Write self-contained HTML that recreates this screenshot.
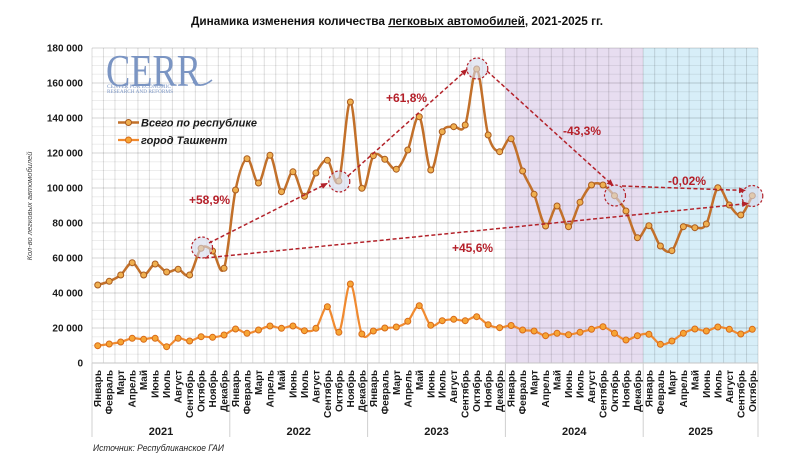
<!DOCTYPE html>
<html><head><meta charset="utf-8"><style>
html,body{margin:0;padding:0;background:#fff;}
svg{display:block;}
.ml{font-family:"Liberation Sans",Arial,sans-serif;font-size:10px;font-weight:bold;fill:#1a1a1a;}
.yl{font-family:"Liberation Sans",Arial,sans-serif;font-size:10px;font-weight:bold;fill:#1a1a1a;}
.pct{font-family:"Liberation Sans",Arial,sans-serif;font-size:12px;font-weight:bold;fill:#b5202a;}
</style></head><body>
<svg id="s" width="788" height="469" viewBox="0 0 788 469" xmlns="http://www.w3.org/2000/svg">
<defs>
<marker id="ah" markerWidth="7" markerHeight="6" refX="6" refY="3" orient="auto" markerUnits="userSpaceOnUse"><path d="M0,0 L7,3 L0,6 z" fill="#b3222a"/></marker>
</defs>
<rect width="788" height="469" fill="#fff"/>
<rect x="505.4" y="48" width="137.8" height="315" fill="#e7ddf0"/>
<rect x="643.2" y="48" width="114.8" height="315" fill="#d7eef8"/>
<g id="grid"></g>
<line x1="92" y1="363" x2="758" y2="363" stroke="#c4c4c4" stroke-width="1"/>
<g stroke="#d0d0d0" stroke-width="1">
<line x1="92" y1="363" x2="92" y2="437"/>
<line x1="229.8" y1="363" x2="229.8" y2="437"/>
<line x1="367.6" y1="363" x2="367.6" y2="437"/>
<line x1="505.4" y1="363" x2="505.4" y2="437"/>
<line x1="643.2" y1="363" x2="643.2" y2="437"/>
<line x1="758" y1="363" x2="758" y2="437"/>
</g>

<!-- CERR logo -->
<text x="106" y="86" font-family="'Liberation Serif',serif" font-size="45" fill="#7b95c3" textLength="95" lengthAdjust="spacingAndGlyphs">CERR</text>
<path d="M193,82 Q201,89 212,80" fill="none" stroke="#7b95c3" stroke-width="1.6"/>
<text x="107" y="88" font-family="'Liberation Serif',serif" font-size="5" fill="#7b95c3" textLength="64" lengthAdjust="spacingAndGlyphs">CENTER FOR ECONOMIC</text>
<text x="107" y="93" font-family="'Liberation Serif',serif" font-size="5" fill="#7b95c3" textLength="66" lengthAdjust="spacingAndGlyphs">RESEARCH AND REFORMS</text>

<g id="series"></g>

<!-- annotation circles -->
<g fill="rgba(214,219,236,0.6)" stroke="#b3222a" stroke-width="1.2" stroke-dasharray="2.5,2">
<circle cx="202" cy="247.5" r="10.5"/>
<circle cx="339.3" cy="181.5" r="10.5"/>
<circle cx="477.3" cy="68.5" r="10.5"/>
<circle cx="615" cy="195.5" r="10.5"/>
<circle cx="752.3" cy="196" r="10.5"/>
</g>
<!-- arrows -->
<g stroke="#b3222a" stroke-width="1.5" stroke-dasharray="4,2.5" fill="none" marker-end="url(#ah)">
<line x1="209" y1="243" x2="327" y2="183.5"/>
<line x1="348" y1="176" x2="467" y2="69.5"/>
<line x1="487" y1="71" x2="613" y2="185.5"/>
<line x1="622" y1="186" x2="745" y2="190.5"/>
<line x1="205" y1="258" x2="748" y2="203.5"/>
</g>

<!-- percent labels -->
<text class="pct" x="189" y="204">+58,9%</text>
<text class="pct" x="386" y="102">+61,8%</text>
<text class="pct" x="563" y="135">-43,3%</text>
<text class="pct" x="668" y="185">-0,02%</text>
<text class="pct" x="452" y="252">+45,6%</text>

<!-- title -->
<text x="191" y="25" font-family="'Liberation Sans',Arial,sans-serif" font-size="12" font-weight="bold" fill="#111" textLength="412" lengthAdjust="spacingAndGlyphs">Динамика изменения количества <tspan text-decoration="underline" style="text-decoration:underline">легковых автомобилей</tspan>, 2021-2025 гг.</text>

<!-- y labels -->
<g class="yl" text-anchor="end">
<text x="83" y="366.5">0</text>
<text x="83" y="331.5">20 000</text>
<text x="83" y="296.5">40 000</text>
<text x="83" y="261.5">60 000</text>
<text x="83" y="226.5">80 000</text>
<text x="83" y="191.5">100 000</text>
<text x="83" y="156.5">120 000</text>
<text x="83" y="121.5">140 000</text>
<text x="83" y="86.5">160 000</text>
<text x="83" y="51.5">180 000</text>
</g>
<text transform="translate(32,206) rotate(-90)" text-anchor="middle" font-family="'Liberation Sans',Arial,sans-serif" font-size="7.5" font-style="italic" fill="#444">Кол-во легковых автомобилей</text>

<!-- legend -->
<line x1="118" y1="122.5" x2="139" y2="122.5" stroke="#c2702a" stroke-width="2.5"/>
<circle cx="128.5" cy="122.5" r="3" fill="#f0b050" stroke="#a85a1e" stroke-width="1"/>
<text x="141" y="126.5" font-family="'Liberation Sans',Arial,sans-serif" font-size="11" font-weight="bold" font-style="italic" fill="#1a1a1a">Всего по республике</text>
<line x1="118" y1="140" x2="139" y2="140" stroke="#f08a30" stroke-width="2.2"/>
<circle cx="128.5" cy="140" r="3" fill="#f7a535" stroke="#d86a18" stroke-width="1"/>
<text x="141" y="144" font-family="'Liberation Sans',Arial,sans-serif" font-size="11" font-weight="bold" font-style="italic" fill="#1a1a1a">город Ташкент</text>

<!-- month labels -->
<g class="ml" text-anchor="end">
<g transform="translate(92,0)">
<text transform="translate(9.2,370) rotate(-90)">Январь</text>
<text transform="translate(20.7,370) rotate(-90)">Февраль</text>
<text transform="translate(32.2,370) rotate(-90)">Март</text>
<text transform="translate(43.7,370) rotate(-90)">Апрель</text>
<text transform="translate(55.2,370) rotate(-90)">Май</text>
<text transform="translate(66.7,370) rotate(-90)">Июнь</text>
<text transform="translate(78.1,370) rotate(-90)">Июль</text>
<text transform="translate(89.6,370) rotate(-90)">Август</text>
<text transform="translate(101.1,370) rotate(-90)">Сентябрь</text>
<text transform="translate(112.6,370) rotate(-90)">Октябрь</text>
<text transform="translate(124.1,370) rotate(-90)">Ноябрь</text>
<text transform="translate(135.6,370) rotate(-90)">Декабрь</text>
</g>
<g transform="translate(229.8,0)">
<text transform="translate(9.2,370) rotate(-90)">Январь</text>
<text transform="translate(20.7,370) rotate(-90)">Февраль</text>
<text transform="translate(32.2,370) rotate(-90)">Март</text>
<text transform="translate(43.7,370) rotate(-90)">Апрель</text>
<text transform="translate(55.2,370) rotate(-90)">Май</text>
<text transform="translate(66.7,370) rotate(-90)">Июнь</text>
<text transform="translate(78.1,370) rotate(-90)">Июль</text>
<text transform="translate(89.6,370) rotate(-90)">Август</text>
<text transform="translate(101.1,370) rotate(-90)">Сентябрь</text>
<text transform="translate(112.6,370) rotate(-90)">Октябрь</text>
<text transform="translate(124.1,370) rotate(-90)">Ноябрь</text>
<text transform="translate(135.6,370) rotate(-90)">Декабрь</text>
</g>
<g transform="translate(367.6,0)">
<text transform="translate(9.2,370) rotate(-90)">Январь</text>
<text transform="translate(20.7,370) rotate(-90)">Февраль</text>
<text transform="translate(32.2,370) rotate(-90)">Март</text>
<text transform="translate(43.7,370) rotate(-90)">Апрель</text>
<text transform="translate(55.2,370) rotate(-90)">Май</text>
<text transform="translate(66.7,370) rotate(-90)">Июнь</text>
<text transform="translate(78.1,370) rotate(-90)">Июль</text>
<text transform="translate(89.6,370) rotate(-90)">Август</text>
<text transform="translate(101.1,370) rotate(-90)">Сентябрь</text>
<text transform="translate(112.6,370) rotate(-90)">Октябрь</text>
<text transform="translate(124.1,370) rotate(-90)">Ноябрь</text>
<text transform="translate(135.6,370) rotate(-90)">Декабрь</text>
</g>
<g transform="translate(505.4,0)">
<text transform="translate(9.2,370) rotate(-90)">Январь</text>
<text transform="translate(20.7,370) rotate(-90)">Февраль</text>
<text transform="translate(32.2,370) rotate(-90)">Март</text>
<text transform="translate(43.7,370) rotate(-90)">Апрель</text>
<text transform="translate(55.2,370) rotate(-90)">Май</text>
<text transform="translate(66.7,370) rotate(-90)">Июнь</text>
<text transform="translate(78.1,370) rotate(-90)">Июль</text>
<text transform="translate(89.6,370) rotate(-90)">Август</text>
<text transform="translate(101.1,370) rotate(-90)">Сентябрь</text>
<text transform="translate(112.6,370) rotate(-90)">Октябрь</text>
<text transform="translate(124.1,370) rotate(-90)">Ноябрь</text>
<text transform="translate(135.6,370) rotate(-90)">Декабрь</text>
</g>
<g transform="translate(643.2,0)">
<text transform="translate(9.2,370) rotate(-90)">Январь</text>
<text transform="translate(20.7,370) rotate(-90)">Февраль</text>
<text transform="translate(32.2,370) rotate(-90)">Март</text>
<text transform="translate(43.7,370) rotate(-90)">Апрель</text>
<text transform="translate(55.2,370) rotate(-90)">Май</text>
<text transform="translate(66.7,370) rotate(-90)">Июнь</text>
<text transform="translate(78.1,370) rotate(-90)">Июль</text>
<text transform="translate(89.6,370) rotate(-90)">Август</text>
<text transform="translate(101.1,370) rotate(-90)">Сентябрь</text>
<text transform="translate(112.6,370) rotate(-90)">Октябрь</text>
</g>
</g>

<!-- years -->
<g font-family="'Liberation Sans',Arial,sans-serif" font-size="11" font-weight="bold" fill="#1a1a1a" text-anchor="middle">
<text x="161" y="435">2021</text>
<text x="298.7" y="435">2022</text>
<text x="436.5" y="435">2023</text>
<text x="574.3" y="435">2024</text>
<text x="700.6" y="435">2025</text>
</g>

<text x="93" y="451" font-family="'Liberation Sans',Arial,sans-serif" font-size="9" font-style="italic" fill="#222" textLength="131" lengthAdjust="spacingAndGlyphs">Источник: Республиканское ГАИ</text>
</svg>
<script>
(function(){
var NS="http://www.w3.org/2000/svg";
var X0=92,W=11.483;
var main=[285,281.3,275,262.7,275,264,272,269.3,275,248.3,251,268.3,
190,158.7,183,155.3,191.7,171.8,196.3,173,160.3,181,102,188.3,
155.7,159.3,169.2,150,116.7,170,131.7,126.7,125,69,135,151.7,
138.8,171,194.3,226,206,226.7,202.3,185,185,195.7,211,237.7,
225.7,246,250.7,226.7,227.7,224,187.7,205,215,195.7];
var tash=[345.7,344,342,338.3,339.3,338.3,346.7,338.3,341,336.7,337.3,335,
329,333.3,330,326,328.3,326,330.7,328.3,306.7,332.3,284,334,
331,328,327,321.3,305.7,325.3,320.7,319.3,320.7,316.7,324.7,327.7,
325.5,330,331,335.7,333.3,334.7,332.3,329.3,326.7,333.3,340,335.7,
334.3,344.3,341,333.3,329,331,327,329.3,334,329.3];
var g=document.getElementById('grid'),h='';
for(var k=0;k<=36;k++){var y=363-k*8.75;var maj=(k%4==0);
h+='<line x1="92" x2="758" y1="'+y+'" y2="'+y+'" stroke="'+(maj?'rgba(0,0,0,0.17)':'rgba(0,0,0,0.07)')+'" stroke-width="1"/>';}
for(var k=0;k<=58;k++){var x=X0+k*W;
h+='<line y1="48" y2="363" x1="'+x+'" x2="'+x+'" stroke="rgba(0,0,0,0.13)" stroke-width="1"/>';}
g.innerHTML=h;
function pth(ys){var p=ys.map(function(y,i){return [X0+(i+0.5)*W,y];});var n=p.length;
var d='M'+p[0][0].toFixed(2)+','+p[0][1].toFixed(2);
for(var i=0;i<n-1;i++){var p0=p[Math.max(i-1,0)],p1=p[i],p2=p[i+1],p3=p[Math.min(i+2,n-1)];
var c1=[p1[0]+(p2[0]-p0[0])/6,p1[1]+(p2[1]-p0[1])/6];
var c2=[p2[0]-(p3[0]-p1[0])/6,p2[1]-(p3[1]-p1[1])/6];
d+=' C'+c1[0].toFixed(2)+','+c1[1].toFixed(2)+' '+c2[0].toFixed(2)+','+c2[1].toFixed(2)+' '+p2[0].toFixed(2)+','+p2[1].toFixed(2);}
return d;}
var s=document.getElementById('series'),o='';
o+='<path d="'+pth(tash)+'" fill="none" stroke="#f08a30" stroke-width="2.2" stroke-linejoin="round"/>';
o+='<path d="'+pth(main)+'" fill="none" stroke="#c2702a" stroke-width="2.5" stroke-linejoin="round"/>';
tash.forEach(function(y,i){o+='<circle cx="'+(X0+(i+0.5)*W).toFixed(2)+'" cy="'+y+'" r="3" fill="#f7a535" stroke="#d86a18" stroke-width="1"/>';});
main.forEach(function(y,i){o+='<circle cx="'+(X0+(i+0.5)*W).toFixed(2)+'" cy="'+y+'" r="3" fill="#f0b050" stroke="#a85a1e" stroke-width="1"/>';});
s.innerHTML=o;
})();
</script>
</body></html>
